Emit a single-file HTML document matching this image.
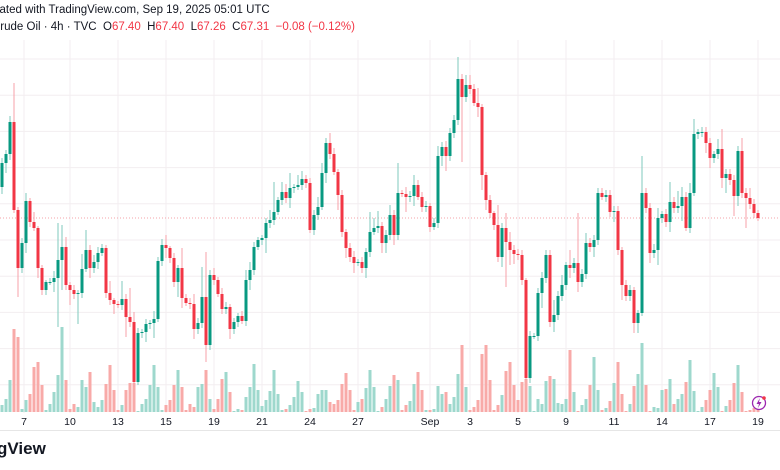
<!DOCTYPE html>
<html><head><meta charset="utf-8"><style>
html,body{margin:0;padding:0;background:#fff;}
body{width:780px;height:470px;overflow:hidden;position:relative;font-family:"Liberation Sans",sans-serif;color:#131722;}
#clip{position:absolute;left:0;top:0;width:780px;height:470px;overflow:hidden;}
.t{position:absolute;white-space:nowrap;font-size:11.5px;}
.r{color:#f23645;}
</style></head><body>
<div id="clip">
<div class="t" style="left:-19px;top:4px;">Created with TradingView.com, Sep 19, 2025 05:01 UTC</div>
<div class="t" style="left:-8px;top:21px;">Crude Oil · 4h · TVC &nbsp;O<span class="r">67.40</span>&nbsp; H<span class="r">67.40</span>&nbsp; L<span class="r">67.26</span>&nbsp; C<span class="r">67.31</span>&nbsp; <span class="r">−0.08 (−0.12%)</span></div>
<svg id="chart" width="780" height="470" style="position:absolute;left:0;top:0;"></svg>
<div class="t" style="left:-54px;top:439px;font-size:17px;font-weight:bold;">TradingView</div>
</div>
<script>
const openFirst = 67.93;
const closes = [68.41,68.59,69.23,67.47,66.31,66.81,67.65,67.23,67.11,66.31,65.87,66.03,66.03,66.11,66.47,66.73,65.97,65.87,65.79,65.81,66.29,66.67,66.31,66.43,66.61,66.71,65.81,65.67,65.59,65.57,65.69,65.33,65.23,64.03,65.01,65.03,65.19,65.21,65.29,66.45,66.77,66.71,66.51,66.03,66.31,65.71,65.61,65.59,65.09,65.21,65.73,64.77,66.17,66.07,65.79,65.49,65.53,65.09,65.23,65.35,65.25,66.07,66.27,66.73,66.87,66.91,
67.21,67.27,67.43,67.67,67.83,67.71,67.91,67.93,67.97,68.09,68.01,67.07,67.37,67.53,68.21,68.81,68.59,68.23,67.77,67.03,66.71,66.53,66.41,66.43,66.31,66.63,67.03,67.11,67.15,66.81,66.97,67.37,66.97,67.81,67.79,67.73,67.75,67.97,67.73,67.53,67.55,67.13,67.21,68.55,68.73,68.55,69.01,69.27,70.09,69.73,69.97,69.89,69.61,69.53,68.17,67.67,67.41,67.17,66.53,67.11,66.83,66.67,66.59,
66.57,66.07,64.11,64.95,64.95,65.81,66.11,66.57,65.23,65.37,65.75,65.97,66.37,66.31,66.41,66.03,66.19,66.81,66.73,66.87,67.81,67.73,67.77,67.43,67.45,66.67,65.97,65.75,65.87,65.21,65.41,67.81,67.51,66.61,66.67,67.31,67.39,67.23,67.63,67.51,67.55,67.73,67.11,67.81,68.99,69.03,69.03,68.81,68.51,68.59,68.69,68.11,68.19,68.07,67.75,68.65,67.81,67.71,67.59,67.41,67.31];
const upperWicks = [.10,.08,.12,.78,.06,.10,.16,.06,.20,.04,.06,.04,.08,.14,.74,.44,.20,.06,.10,.06,.30,.40,.10,.14,.12,.08,.06,.24,.04,.06,.36,.10,.58,.20,.10,.06,.10,.06,.16,.08,.12,.20,.04,.10,.06,.40,.08,.10,.20,.10,.60,.90,.10,.14,.06,.12,.10,.06,.08,.06,.10,.20,.16,.10,.06,.06,
.10,.20,.60,.06,.20,.16,.30,.06,.20,.16,.08,.10,.10,.20,.20,.10,.20,.12,.06,.10,.06,.10,.12,.06,.10,.08,.40,.20,.30,.08,.10,.20,.10,.60,.06,.14,.10,.20,.10,.10,.10,.06,.10,.20,.10,.12,.10,.10,.44,.10,.20,.20,.10,.30,.06,.06,.10,.04,.40,.10,.30,.20,.10,
.10,.10,.04,.10,.06,.10,.12,.10,.10,.30,.10,.20,.06,.30,.10,1.0,.10,.20,.10,.10,.10,.10,.10,.10,.10,.10,.06,.10,.10,.06,.06,.74,.10,.10,.12,.20,.06,.10,.40,.10,.30,.20,.10,.20,.30,.06,.10,.10,.10,.06,.20,.40,.10,.10,.10,.10,.26,.10,.20,.10,.06];
const lowerWicks = [.14,.20,.12,.06,.58,.10,.20,.10,.06,.20,.10,.10,.06,.20,.98,.60,.10,.30,.10,.60,.10,.06,.20,.10,.14,.06,.10,.10,.20,.06,.10,.40,.10,.10,.06,.10,.20,.10,.30,.06,.10,.20,.10,.10,.30,.20,.06,.10,.20,.10,.10,.34,.10,.10,.06,.10,.10,.20,.10,.10,.06,.10,.20,.10,.06,.10,
.30,.10,.10,.06,.10,.10,.20,.10,.06,.10,.10,.06,.10,.10,.06,.20,.10,.06,.30,.10,.20,.10,.20,.06,.10,.20,.10,.06,.10,.20,.20,.10,.20,.10,.06,.30,.10,.20,.06,.10,.10,.10,.06,.10,.20,.30,.10,.10,.10,1.3,.10,.10,.06,.20,.30,.20,.10,.10,.10,.20,.90,.30,.20,
.10,.10,.04,.10,.06,.10,.30,.10,.10,.20,.10,.10,.10,.20,.10,.20,.10,.10,.10,.20,.10,.06,.10,.10,.20,.10,.30,.10,.10,.20,.20,.06,.10,.20,.10,.30,.10,.10,.20,.10,.10,.30,.06,.10,.06,.10,.10,.20,.20,.10,.10,.20,.30,.10,.40,.20,.10,.60,.10,.10,.06];
const volumes = [7,13,32,83,75,3,12,18,45,50,27,2,8,20,37,85,32,3,8,5,32,25,40,10,5,12,28,47,22,2,7,22,29,29,1,8,13,27,47,25,2,7,12,27,42,25,2,8,5,25,28,42,13,3,13,33,40,20,1,3,2,15,25,48,22,6,
12,21,42,18,2,3,7,15,31,20,1,3,4,18,22,22,10,8,12,28,39,22,2,10,13,24,42,25,1,5,13,26,37,32,2,7,11,28,40,22,2,2,3,26,18,20,8,15,38,67,25,2,5,12,58,67,32,2,7,17,41,50,27,
12,30,33,26,1,13,8,31,36,33,9,8,13,62,20,1,7,13,27,55,22,2,4,11,29,50,18,1,8,26,38,69,27,1,5,4,22,23,33,8,13,18,30,52,21,1,5,12,22,39,25,1,6,12,29,47,20,1,2,4,3];
const xTickLabels = ["7","10","13","15","19","21","24","27","Sep","3","5","9","11","14","17","19"];
const xTickIndex = [5,17,29,41,53,65,77,89,107,117,129,141,153,165,177,189];
const lastPrice = 67.31;

const NS="http://www.w3.org/2000/svg";
const svg=document.getElementById('chart');
const X0=2, STEP=4;
function xAt(i){return X0+i*STEP;}
function yP(p){return (71.67-p)*50;}
function yV(v){return 412-v;}
function mk(tag,attrs){const e=document.createElementNS(NS,tag);for(const k in attrs)e.setAttribute(k,attrs[k]);svg.appendChild(e);return e;}
for(let k=0;k<10;k++){
  const gy=59+k*36.2;
  const g=mk('line',{x1:0,x2:780,y1:gy,y2:gy,stroke:'#f3eef0','stroke-width':1});
  
  
}
xTickIndex.forEach((ti,k)=>{
  const gx=xAt(ti)+0.5*(k===0?4:0);
  const g=mk('line',{x1:gx,x2:gx,y1:40,y2:413,stroke:'#f3eef0','stroke-width':1});
  
  
  const t=mk('text',{x:gx,y:425,'font-size':10.5,'text-anchor':'middle',fill:'#131722','font-family':'Liberation Sans, sans-serif'});
  t.textContent=xTickLabels[k];
  
  
});
const sep=mk('line',{x1:0,x2:780,y1:430.5,y2:430.5,stroke:'#e6e6e6','stroke-width':1});


volumes.forEach((v,i)=>{
  const o=i===0?openFirst:closes[i-1], c=closes[i];
  const b=mk('rect',{x:xAt(i)-1.5,y:yV(v),width:3,height:v,fill:c>=o?'#9ed8cd':'#f8aaa8'});
  
  
});
const pl=mk('line',{x1:0,x2:780,y1:yP(lastPrice),y2:yP(lastPrice),stroke:'#f5a3aa','stroke-width':1,'stroke-dasharray':'1 2'});


closes.forEach((c,i)=>{
  const o=i===0?openFirst:closes[i-1];
  const up=c>=o;
  const hi=Math.max(o,c)+upperWicks[i], lo=Math.min(o,c)-lowerWicks[i];
  const col=up?'#089981':'#f23645';
  const w=mk('line',{x1:xAt(i),x2:xAt(i),y1:yP(hi),y2:yP(lo),stroke:up?'#7fcabd':'#f7a0a8','stroke-width':1});
  
  
  const top=yP(Math.max(o,c)), h=Math.max(1,yP(Math.min(o,c))-top);
  const r=mk('rect',{x:xAt(i)-1.5,y:top,width:3,height:h,fill:col});
  
  
});
const ic=mk('circle',{cx:759,cy:403,r:6.5,fill:'none',stroke:'#9c27b0','stroke-width':1.3});


const bolt=mk('path',{d:'M760 398 L756.5 404 L759 404 L758 408 L761.5 402 L759 402 Z',fill:'#9c27b0'});


const dot=mk('circle',{cx:764,cy:398,r:1.8,fill:'#f23645'});


</script>
</body></html>
